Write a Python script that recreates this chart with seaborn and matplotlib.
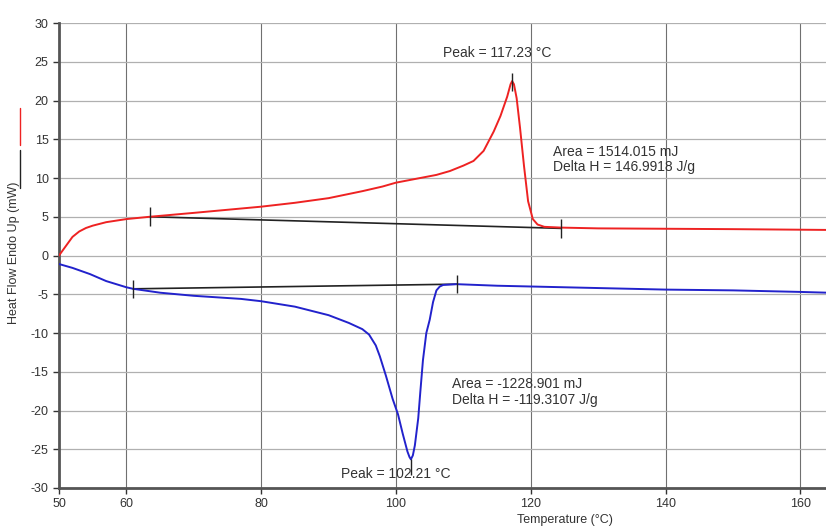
import matplotlib
matplotlib.use("Agg")
import matplotlib.pyplot as plt
from matplotlib.lines import Line2D
import seaborn as sns
import pandas as pd

# Heating curve (red)
heat_temp = [50, 51, 52, 53, 54, 55, 57, 60, 63.5, 70, 75, 80, 85, 90, 95, 98, 100,
             103, 106, 108, 110, 111.5, 113, 114.5, 115.5, 116.5, 117.0, 117.23, 117.5,
             117.9, 118.4, 119.0, 119.6, 120.3, 121.0, 122, 124.5, 130, 140, 150, 164]
heat_flow = [0.0, 1.2, 2.4, 3.1, 3.55, 3.85, 4.3, 4.7, 5.0, 5.5, 5.9, 6.3, 6.8, 7.4, 8.3,
             8.9, 9.4, 9.9, 10.4, 10.9, 11.6, 12.2, 13.5, 16.0, 18.0, 20.5, 22.1, 22.5,
             22.1, 20.3, 16.5, 11.5, 7.0, 4.7, 4.0, 3.7, 3.6, 3.5, 3.45, 3.4, 3.3]

# Cooling curve (blue)
cool_temp = [50, 52, 54.6, 57, 60, 61, 65, 70, 77, 80, 85, 90, 93, 95, 96, 97, 97.6, 98.5,
             99.5, 100.3, 101, 101.7, 102.0, 102.21, 102.5, 102.8, 103.3, 103.6, 104,
             104.5, 105, 105.5, 106, 106.5, 107, 109, 115, 120, 130, 140, 150, 160, 164]
cool_flow = [-1.1, -1.6, -2.4, -3.3, -4.1, -4.3, -4.8, -5.2, -5.6, -5.9, -6.6, -7.7, -8.7,
             -9.5, -10.2, -11.6, -13.0, -15.5, -18.5, -20.5, -23.0, -25.3, -26.0, -26.3,
             -25.8, -24.5, -21.0, -17.7, -13.5, -10.0, -8.3, -6.0, -4.5, -4.0, -3.8, -3.7,
             -3.9, -4.0, -4.2, -4.4, -4.5, -4.7, -4.8]

# Integration baselines (black)
base1_temp = [63.5, 124.5]
base1_flow = [5.0, 3.5]
base2_temp = [61, 109]
base2_flow = [-4.3, -3.7]

# Marker ticks (x, y)
mark_x = [63.5, 124.5, 61, 109, 117.23]
mark_y = [5.0, 3.5, -4.3, -3.7, 22.4]
peak2_x = 102.21
peak2_y = -26.3

x_ticks = [50, 60, 80, 100, 120, 140, 160]
y_ticks = list(range(-30, 31, 5))

sns.set_style("white")
plt.rcParams['font.family'] = ['Liberation Sans', 'DejaVu Sans']
plt.rcParams['axes.unicode_minus'] = False

fig = plt.figure(figsize=(8.26, 5.29), dpi=100)
ax = fig.add_axes([59/826, 1-488/529, 1-59/826, (488-23)/529])

for xv in x_ticks[1:]:
    ax.axvline(xv, color='#707070', lw=0.8, zorder=0)
for yv in y_ticks:
    ax.axhline(yv, color='#b0b0b0', lw=0.9, zorder=0)

df_h = pd.DataFrame({'T': heat_temp, 'Q': heat_flow})
df_c = pd.DataFrame({'T': cool_temp, 'Q': cool_flow})
df_b1 = pd.DataFrame({'T': base1_temp, 'Q': base1_flow})
df_b2 = pd.DataFrame({'T': base2_temp, 'Q': base2_flow})

sns.lineplot(data=df_b1, x='T', y='Q', ax=ax, color='#222222', lw=1.2, sort=False, zorder=2)
sns.lineplot(data=df_b2, x='T', y='Q', ax=ax, color='#222222', lw=1.2, sort=False, zorder=2)
sns.lineplot(data=df_h, x='T', y='Q', ax=ax, color='#ee2222', lw=1.4, sort=False, zorder=3)
sns.lineplot(data=df_c, x='T', y='Q', ax=ax, color='#2222cc', lw=1.4, sort=False, zorder=3)

for mx, my in zip(mark_x, mark_y):
    ax.vlines(mx, my - 1.2, my + 1.2, color='#222222', lw=1.0, zorder=4)
ax.vlines(peak2_x, peak2_y - 2.0, peak2_y, color='#222222', lw=1.0, zorder=4)

ax.set_xlim(50, 163.8)
ax.set_ylim(-30, 30)
ax.set_xticks(x_ticks)
ax.set_yticks(y_ticks)
ax.tick_params(axis='both', labelsize=9, colors='#333333', length=4, width=1,
               direction='out', left=True, bottom=True)
for lbl in ax.get_xticklabels() + ax.get_yticklabels():
    lbl.set_color('#333333')

for s in ['top', 'right']:
    ax.spines[s].set_visible(False)
for s in ['left', 'bottom']:
    ax.spines[s].set_color('#555555')
    ax.spines[s].set_linewidth(2)

ax.set_xlabel('Temperature (°C)', fontsize=9, color='#333333')
ax.xaxis.set_label_coords(0.66, -0.055)
ax.set_ylabel('Heat Flow Endo Up (mW)', fontsize=9, color='#333333')
ax.yaxis.set_label_coords(-0.051, 0.505)

tc = '#333333'
ax.text(115, 26.1, 'Peak = 117.23 °C', fontsize=10, color=tc, ha='center', va='center')
ax.text(123.3, 13.4, 'Area = 1514.015 mJ', fontsize=10, color=tc, ha='left', va='center')
ax.text(123.3, 11.4, 'Delta H = 146.9918 J/g', fontsize=10, color=tc, ha='left', va='center')
ax.text(108.3, -16.6, 'Area = -1228.901 mJ', fontsize=10, color=tc, ha='left', va='center')
ax.text(108.3, -18.6, 'Delta H = -119.3107 J/g', fontsize=10, color=tc, ha='left', va='center')
ax.text(99.9, -28.2, 'Peak = 102.21 °C', fontsize=10, color=tc, ha='center', va='center')

fig.add_artist(Line2D([20/826, 20/826], [1-145/529, 1-108/529], transform=fig.transFigure,
                      color='#ee2222', lw=1.0))
fig.add_artist(Line2D([20/826, 20/826], [1-188/529, 1-150/529], transform=fig.transFigure,
                      color='#222222', lw=1.0))

fig.savefig('out.png', dpi=100)
